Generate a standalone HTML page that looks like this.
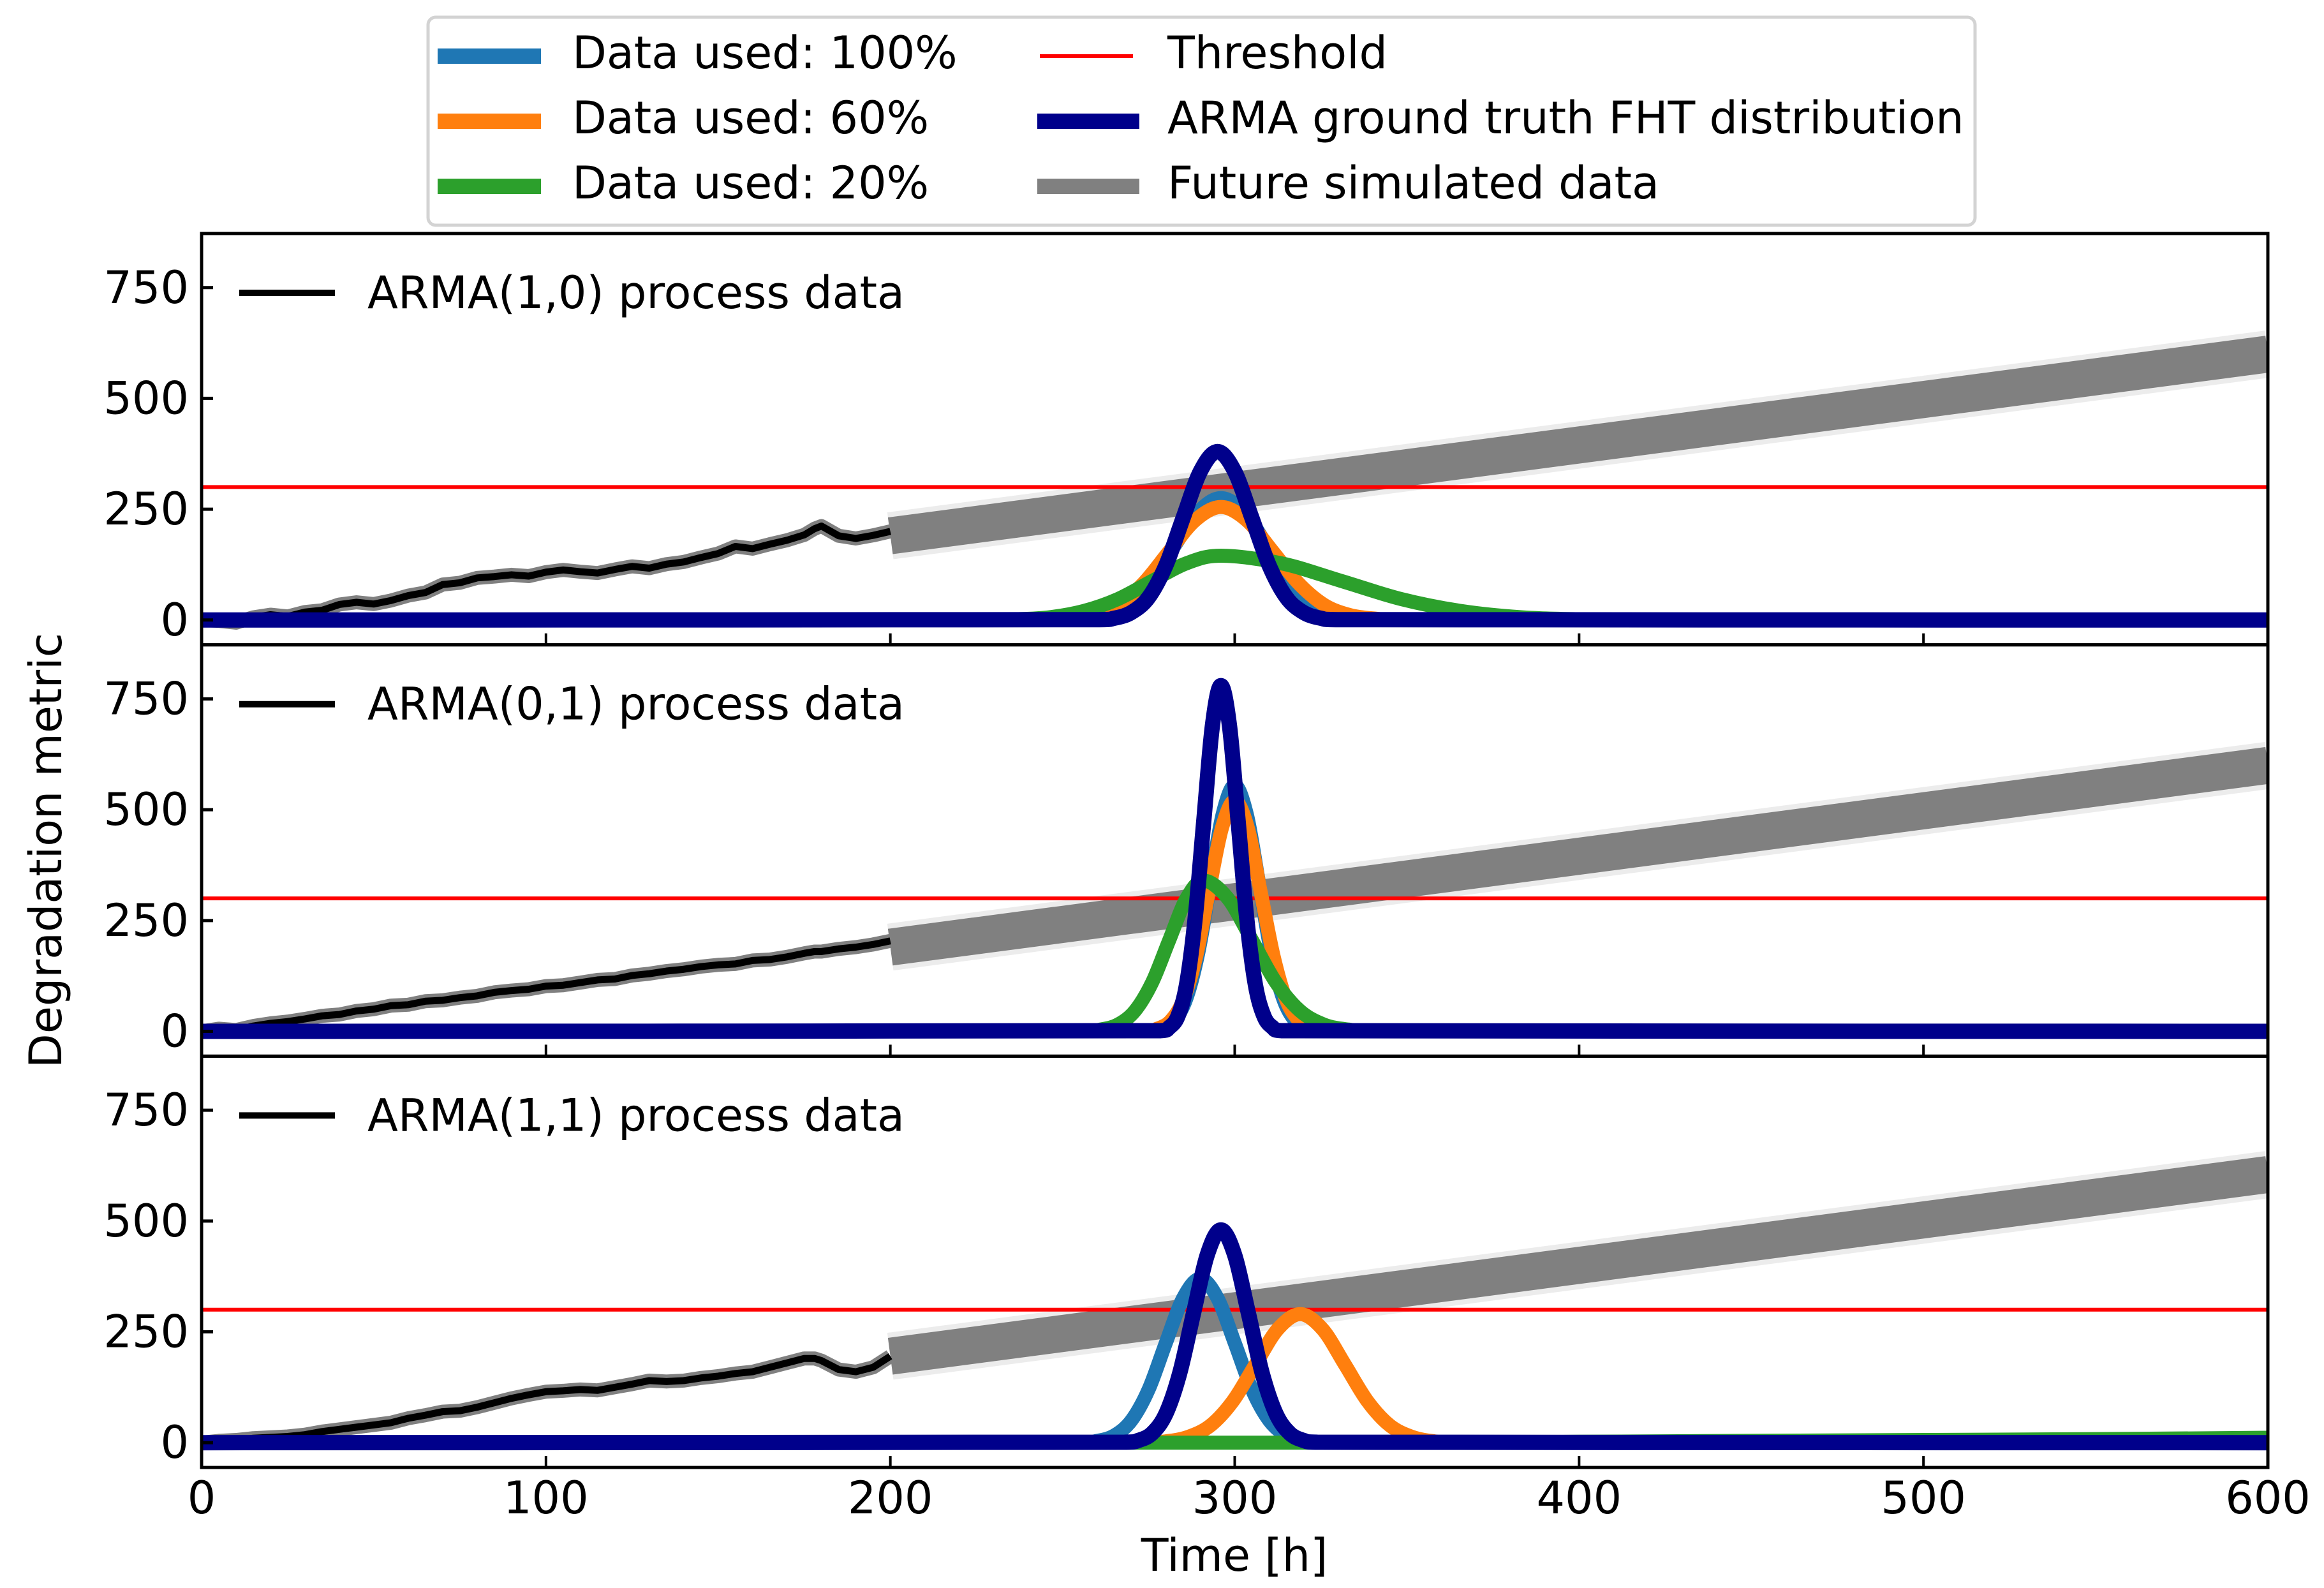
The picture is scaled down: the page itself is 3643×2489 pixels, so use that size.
<!DOCTYPE html>
<html><head><meta charset="utf-8">
<style>
html,body{margin:0;padding:0;background:#fff;}
svg{display:block;font-family:"DejaVu Sans","Liberation Sans",sans-serif;}
</style></head>
<body>
<svg id="chart" xmlns="http://www.w3.org/2000/svg" width="3643" height="2489" viewBox="0 0 3643 2489">
<rect width="3643" height="2489" fill="#fff"/>
<g id="panels"></g>
<text x="77" y="1333" font-size="70" text-anchor="middle" dominant-baseline="middle" transform="rotate(-90 77 1333)">Degradation metric</text>
<text x="1935" y="2443" font-size="70" text-anchor="middle" dominant-baseline="middle">Time [h]</text>
<g>
<rect x="671" y="27" width="2425" height="326" rx="12" fill="#fff" stroke="#d3d3d3" stroke-width="5"/>
<line x1="686" y1="88" x2="848" y2="88" stroke="#1f77b4" stroke-width="24"/>
<text x="897" y="88" font-size="70" dominant-baseline="middle">Data used: 100%</text>
<line x1="686" y1="190" x2="848" y2="190" stroke="#ff7f0e" stroke-width="24"/>
<text x="897" y="190" font-size="70" dominant-baseline="middle">Data used: 60%</text>
<line x1="686" y1="292" x2="848" y2="292" stroke="#2ca02c" stroke-width="24"/>
<text x="897" y="292" font-size="70" dominant-baseline="middle">Data used: 20%</text>
<line x1="1630" y1="88" x2="1776" y2="88" stroke="#ff0000" stroke-width="6"/>
<text x="1830" y="88" font-size="70" dominant-baseline="middle">Threshold</text>
<line x1="1626" y1="190" x2="1786" y2="190" stroke="#00008b" stroke-width="24"/>
<text x="1830" y="190" font-size="70" dominant-baseline="middle">ARMA ground truth FHT distribution</text>
<line x1="1626" y1="292" x2="1786" y2="292" stroke="#808080" stroke-width="24"/>
<text x="1830" y="292" font-size="70" dominant-baseline="middle">Future simulated data</text>
</g>
</svg>
<script>
const panelTitles = ["ARMA(1,0) process data","ARMA(0,1) process data","ARMA(1,1) process data"];
const xTicks = [0,100,200,300,400,500,600];
const yTicks = [0,250,500,750];
const threshold = 300;
const dataX = [0,5,10,15,20,25,30,35,40,45,50,55,60,65,70,75,80,85,90,95,100,105,110,115,120,125,130,135,140,145,150,155,160,165,170,175,178,180,185,190,195,200];
const dataY1 = [0,-2,-6,6,12,8,18,22,35,40,36,44,55,62,80,84,95,98,102,99,108,113,109,106,114,121,117,126,131,141,150,166,161,171,180,192,206,212,190,184,191,200];
const dataY2 = [0,6,3,12,18,22,28,35,38,46,50,58,60,68,70,76,80,88,92,95,102,104,110,116,118,126,130,136,140,146,150,152,160,162,168,176,180,180,186,190,196,204];
const dataY3 = [0,4,6,10,12,14,18,25,30,35,40,45,55,62,70,72,80,90,100,108,115,117,120,118,125,132,140,138,140,146,150,156,160,170,180,190,190,185,165,160,170,195];
const futureX = [200,600];
const futureY = [[190,600],[190,600],[195,605]];
const p1Blue = [[0,248.8,255.5,262.3,269,275.8,282.5,289.3,296,302.8,309.5,316.3,323,329.8,336.5,343.3,600],[0,0.5,3,12,37,89,167,243,275,243,167,89,37,12,3,0.5,0]];
const p1Orange = [[0,243.5,251,258.5,266,273.5,281,288.5,296,303.5,311,318.5,326,333.5,341,348.5,600],[0,0.5,3,11,34,83,155,225,255,225,155,83,34,11,3,0.5,0]];
const p1Green = [[0,226,236,246,256,266,276,286,296,313.5,331,348.5,366,383.5,401,418.5,436,600],[0,0.3,1.6,6,20,47,88,128,145,128,88,47,20,6,1.6,0.3,0.05,0]];
const p1Navy = [[0,260,265,270,275,280,285,290,295,300,305,310,315,320,325,330,600],[0,0.8,4,17,51,123,230,335,380,335,230,123,51,17,4,0.8,0]];
const p2Blue = [[0,275.5,279,282.5,286,289.5,293,296.5,300,303.5,307,310.5,314,317.5,321,324.5,600],[0,1,6,24,75,180,337,490,555,490,337,180,75,24,6,1,0]];
const p2Orange = [[0,273.8,277.5,281.3,285,288.8,292.5,296.3,300,303.8,307.5,311.3,315,318.8,322.5,326.3,600],[0,1,6,23,70,169,316,459,520,459,316,169,70,23,6,1,0]];
const p2Green = [[0,256,261,266,271,276,281,286,291,298,305,312,319,326,333,340,600],[0,0.7,4,15,46,110,206,300,340,300,206,110,46,15,4,0.7,0]];
const p2Navy = [[0,278.5,281,283.5,286,288.5,291,293.5,296,298.5,301,303.5,306,308.5,311,313.5,600],[0,1.5,9,34,105,254,473,688,780,688,473,254,105,34,9,1.5,0]];
const p3Blue = [[0,255,260,265,270,275,280,285,290,295,300,305,310,315,320,325,600],[0,0.7,4,16,50,120,225,326,370,326,225,120,50,16,4,0.7,0]];
const p3Orange = [[0,273.5,280,286.5,293,299.5,306,312.5,319,325.5,332,338.5,345,351.5,358,364.5,600],[0,0.6,3,13,39,94,176,256,290,256,176,94,39,13,3,0.6,0]];
const p3Green = [[0,360,400,450,500,550,600],[0,0,2,4,6,8,11]];
const p3Navy = [[0,268,272,276,280,284,288,292,296,300,304,308,312,316,320,324,600],[0,1,5,21,65,156,291,423,480,423,291,156,65,21,5,1,0]];

const series = [
  [p1Blue,p1Orange,p1Green,p1Navy],
  [p2Blue,p2Orange,p2Green,p2Navy],
  [p3Blue,p3Orange,p3Green,p3Navy]];
const seriesColors = ["#1f77b4","#ff7f0e","#2ca02c","#00008b"];
const seriesNames = ["fht-100pct","fht-60pct","fht-20pct","fht-ground-truth"];
const dataYs = [dataY1,dataY2,dataY3];

const NS="http://www.w3.org/2000/svg";
const L=316,R=3555,T0=366,PH=644.7,YMAX=872,YMIN=-56;
const xs = v => L + (v-0)/(600-0)*(R-L);
const ysFor = i => v => T0 + i*PH + (YMAX-v)/(YMAX-YMIN)*PH;
function mk(tag, attrs, parent){const e=document.createElementNS(NS,tag);for(const k in attrs)e.setAttribute(k,attrs[k]);parent.appendChild(e);return e;}
function smoothPath(px,py){
  let d=`M${px[0]},${py[0]}`;
  for(let i=0;i<px.length-1;i++){
    const x0=px[Math.max(i-1,0)],y0=py[Math.max(i-1,0)],x1=px[i],y1=py[i],x2=px[i+1],y2=py[i+1],x3=px[Math.min(i+2,px.length-1)],y3=py[Math.min(i+2,px.length-1)];
    let c1x=x1+(x2-x0)/6,c1y=y1+(y2-y0)/6,c2x=x2-(x3-x1)/6,c2y=y2-(y3-y1)/6;
    c1x=Math.min(Math.max(c1x,x1),x2);c2x=Math.min(Math.max(c2x,x1),x2);
    d+=` C${c1x},${c1y} ${c2x},${c2y} ${x2},${y2}`;
  }
  return d;
}
const root=document.getElementById('panels');
for(let i=0;i<3;i++){
  const ys=ysFor(i);
  const top=T0+i*PH, bot=top+PH;
  const g=mk('g',{},root);
  
  
  const cp=mk('clipPath',{id:'cp'+i},g);
  mk('rect',{x:L,y:top,width:R-L,height:PH},cp);
  const pl=mk('g',{'clip-path':`url(#cp${i})`},g);
  const fh=mk('line',{x1:xs(futureX[0]),y1:ys(futureY[i][0]),x2:xs(futureX[1]),y2:ys(futureY[i][1]),stroke:'#808080','stroke-opacity':0.15,'stroke-width':74,'stroke-linecap':'butt'},pl);
  
  
  const fb=mk('line',{x1:xs(futureX[0]),y1:ys(futureY[i][0]),x2:xs(futureX[1]),y2:ys(futureY[i][1]),stroke:'#808080','stroke-width':58,'stroke-linecap':'butt'},pl);
  
  
  const pts=dataX.map((x,k)=>`${xs(x)},${ys(dataYs[i][k])}`).join(' ');
  const dg=mk('polyline',{points:pts,fill:'none',stroke:'#808080','stroke-width':22,'stroke-linejoin':'round'},pl);
  
  
  const db=mk('polyline',{points:pts,fill:'none',stroke:'#000','stroke-width':11,'stroke-linejoin':'round'},pl);
  
  
  const th=mk('line',{x1:L,x2:R,y1:ys(threshold),y2:ys(threshold),stroke:'#ff0000','stroke-width':6},pl);
  
  
  series[i].forEach((s,k)=>{
    const p=mk('path',{d:smoothPath(s[0].map(xs),s[1].map(ys)),fill:'none',stroke:seriesColors[k],'stroke-width':k==3?24:22,'stroke-linejoin':'round'},pl);
    
    
  });
  const sp=mk('rect',{x:L,y:top,width:R-L,height:PH,fill:'none',stroke:'#000','stroke-width':5},g);
  
  
  yTicks.forEach(v=>{
    const t=mk('line',{x1:L,x2:L+18,y1:ys(v),y2:ys(v),stroke:'#000','stroke-width':5},g);
    
    
    const tl=mk('text',{x:L-20,y:ys(v),'font-size':70,'text-anchor':'end','dominant-baseline':'central'},g);
    tl.textContent=v;
    
    
  });
  xTicks.forEach(v=>{
    const t=mk('line',{x1:xs(v),x2:xs(v),y1:bot,y2:bot-18,stroke:'#000','stroke-width':4},g);
    
    
    if(i==2){
      const tl=mk('text',{x:xs(v),y:bot+48,'font-size':70,'text-anchor':'middle','dominant-baseline':'central'},g);
      tl.textContent=v;
      
      
    }
  });
  const lg=mk('g',{},g);
  
  
  mk('line',{x1:375,x2:525,y1:top+93,y2:top+93,stroke:'#000','stroke-width':10},lg);
  const lt=mk('text',{x:576,y:top+93,'font-size':70,'dominant-baseline':'central'},lg);
  lt.textContent=panelTitles[i];
}
</script>
</body></html>
